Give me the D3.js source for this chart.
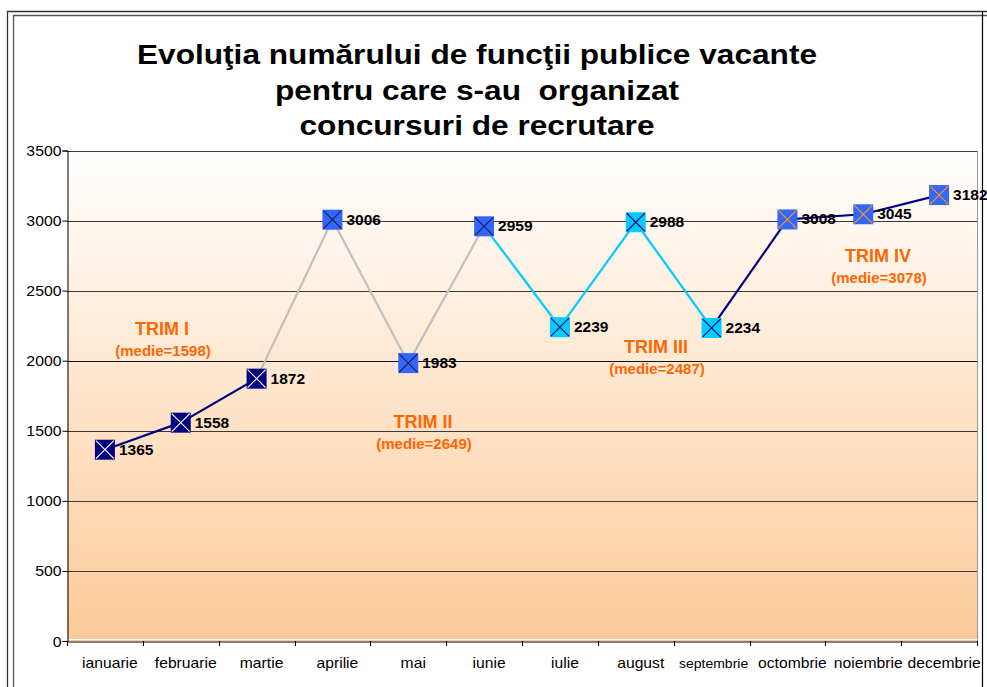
<!DOCTYPE html>
<html>
<head>
<meta charset="utf-8">
<script src="https://cdn.jsdelivr.net/npm/d3@7"></script>
<style>
  body { margin: 0; background: #fff; }
  text { font-family: "Liberation Sans", Arial, sans-serif; }
  .title { white-space: pre; }
</style>
</head>
<body>
<div id="chart"></div>
<script>
// data
var months = ["ianuarie", "februarie", "martie", "aprilie", "mai", "iunie",
              "iulie", "august", "septembrie", "octombrie", "noiembrie", "decembrie"];
var values = [1365, 1558, 1872, 3006, 1983, 2959, 2239, 2988, 2234, 3008, 3045, 3182];
var quarterNames = ["TRIM I", "TRIM II", "TRIM III", "TRIM IV"];
var quarterAvg = [1598, 2649, 2487, 3078];
var yTicks = [0, 500, 1000, 1500, 2000, 2500, 3000, 3500];
var titleLines = ["Evoluţia numărului de funcţii publice vacante",
                  "pentru care s-au  organizat",
                  "concursuri de recrutare"];

// styles per quarter (line into the month, marker fill, cross colour)
var quarterStyle = [
  {line: "#000080", fill: "#000080", cross: "#ffffff"},
  {line: "#c0c0c0", fill: "#3366ff", cross: "#1a1a4a"},
  {line: "#00ccff", fill: "#00ccff", cross: "#000080"},
  {line: "#000080", fill: "#3366ff", cross: "#ff9900"}
];
// where the quarter annotations sit (pixels)
var quarterLabelPos = [[162, 335], [423, 428], [656, 353], [878, 262]];

var width = 987, height = 687;
var plot = {left: 67, right: 977, top: 150.5, bottom: 641};
var stretch = 1.13;   // text in the picture is a bit wide

var svg = d3.select("#chart")
  .append("svg")
    .attr("width", width)
    .attr("height", height);

// frame
svg.append("path")
  .attr("d", "M7.5,687V11.5H987")
  .attr("fill", "none").attr("stroke", "#333").attr("stroke-width", 1.3);
svg.append("path")
  .attr("d", "M13.5,687V15.5H987")
  .attr("fill", "none").attr("stroke", "#555").attr("stroke-width", 1.3);
svg.append("line")
  .attr("x1", 982.5).attr("x2", 982.5).attr("y1", 11).attr("y2", 687)
  .attr("stroke", "#000").attr("stroke-width", 1.2);

// title
svg.selectAll(".title")
  .data(titleLines)
  .enter()
  .append("text")
    .attr("class", "title")
    .attr("xml:space", "preserve")
    .attr("transform", function(d, i) { return "translate(477," + (64 + i * 35.5) + ") scale(" + stretch + ",1)"; })
    .attr("text-anchor", "middle")
    .style("font-size", "28px")
    .style("font-weight", "bold")
    .text(function(d) { return d; });

// scales
var x = d3.scaleBand()
  .domain(months)
  .range([plot.left, plot.right]);

var y = d3.scaleLinear()
  .domain([0, 3500])
  .range([plot.bottom, plot.top]);

// plot background
var grad = svg.append("defs").append("linearGradient")
  .attr("id", "bg").attr("x1", 0).attr("y1", 0).attr("x2", 0).attr("y2", 1);
grad.append("stop").attr("offset", "0%").attr("stop-color", "#ffffff");
grad.append("stop").attr("offset", "100%").attr("stop-color", "#fdca98");

svg.append("rect")
  .attr("x", plot.left).attr("y", plot.top)
  .attr("width", plot.right - plot.left)
  .attr("height", plot.bottom - plot.top)
  .attr("fill", "url(#bg)");

svg.append("line")
  .attr("x1", plot.right + 0.5).attr("x2", plot.right + 0.5)
  .attr("y1", plot.top).attr("y2", plot.bottom)
  .attr("stroke", "#999");
svg.append("line")
  .attr("x1", plot.left).attr("x2", plot.right)
  .attr("y1", plot.bottom - 1.5).attr("y2", plot.bottom - 1.5)
  .attr("stroke", "#fff");

// gridlines
svg.selectAll(".grid")
  .data(yTicks.slice(1))
  .enter()
  .append("line")
    .attr("class", "grid")
    .attr("x1", plot.left).attr("x2", plot.right)
    .attr("y1", function(d) { return Math.round(y(d)) + 0.5; })
    .attr("y2", function(d) { return Math.round(y(d)) + 0.5; })
    .attr("stroke", function(d) { return d === 2000 ? "#111" : "#3a3a3a"; });

// Y axis
var yAxis = svg.append("g")
  .attr("transform", "translate(" + (plot.left + 0.5) + ",0)")
  .call(d3.axisLeft(y).tickValues(yTicks).tickSize(5).tickPadding(0).tickFormat(d3.format("d")));
yAxis.select(".domain").attr("stroke", "#000");
yAxis.selectAll("text")
  .attr("x", -6 / stretch)   // keep stretched labels right-aligned on the tick
  .attr("dy", "0.36em")
  .attr("transform", "scale(" + stretch + ",1)")
  .style("font-size", "14px")
  .style("font-family", '"Liberation Sans", Arial, sans-serif')
  .attr("fill", "#000");

// X axis
var xAxis = svg.append("g")
  .attr("transform", "translate(0," + (plot.bottom + 0.5) + ")")
  .call(d3.axisBottom(x).tickSize(0).tickFormat(""));
xAxis.select(".domain").attr("stroke", "#000");

svg.selectAll(".xtick")
  .data(months.concat(["end"]))
  .enter()
  .append("line")
    .attr("class", "xtick")
    .attr("x1", function(d, i) { return Math.round(plot.left + i * x.bandwidth()) + 0.5; })
    .attr("x2", function(d, i) { return Math.round(plot.left + i * x.bandwidth()) + 0.5; })
    .attr("y1", plot.bottom).attr("y2", plot.bottom + 5)
    .attr("stroke", "#000");

svg.selectAll(".xlabel")
  .data(months)
  .enter()
  .append("text")
    .attr("class", "xlabel")
    .attr("transform", function(d) {
      var off = d === "septembrie" ? 2 : 5;
      return "translate(" + (x(d) + x.bandwidth() / 2 + off) + ",668) scale(" + (stretch - 0.01) + ",1)";
    })
    .attr("text-anchor", "middle")
    .style("font-size", function(d) { return d === "septembrie" ? "12.5px" : "14px"; })
    .text(function(d) { return d; });

// line segments, coloured by the quarter of the month they end in
var pts = values.map(function(v, i) { return {m: months[i], v: v, q: Math.floor(i / 3)}; });
var segs = d3.pairs(pts);

svg.selectAll(".seg")
  .data(segs)
  .enter()
  .append("line")
    .attr("class", "seg")
    .attr("x1", function(d) { return x(d[0].m) + x.bandwidth() / 2; })
    .attr("y1", function(d) { return y(d[0].v); })
    .attr("x2", function(d) { return x(d[1].m) + x.bandwidth() / 2; })
    .attr("y2", function(d) { return y(d[1].v); })
    .attr("stroke", function(d) { return quarterStyle[d[1].q].line; })
    .attr("stroke-width", 2.2);

// markers
var mk = svg.selectAll(".marker")
  .data(pts)
  .enter()
  .append("g")
    .attr("class", "marker")
    .attr("transform", function(d) { return "translate(" + (x(d.m) + x.bandwidth() / 2) + "," + y(d.v) + ")"; });

mk.append("rect")
  .attr("x", -10).attr("y", -10).attr("width", 20).attr("height", 20)
  .attr("fill", function(d) { return quarterStyle[d.q].fill; });
mk.append("path")
  .attr("d", "M-9,-9L9,9M9,-9L-9,9")
  .attr("stroke", function(d) { return quarterStyle[d.q].cross; })
  .attr("stroke-width", 1.1);

// value labels
svg.selectAll(".vlabel")
  .data(pts)
  .enter()
  .append("text")
    .attr("class", "vlabel")
    .attr("x", function(d) { return x(d.m) + x.bandwidth() / 2 + 14; })
    .attr("y", function(d) { return y(d.v) + 5; })
    .style("font-size", "15.5px")
    .style("font-weight", "bold")
    .text(function(d) { return d.v; });

// quarter annotations
var ql = svg.selectAll(".qlabel")
  .data(quarterNames)
  .enter()
  .append("g")
    .attr("class", "qlabel")
    .attr("transform", function(d, i) { return "translate(" + quarterLabelPos[i][0] + "," + quarterLabelPos[i][1] + ")"; });

ql.append("text")
  .attr("text-anchor", "middle")
  .attr("fill", "#ff6600")
  .style("font-size", "18px")
  .style("font-weight", "bold")
  .text(function(d) { return d; });
ql.append("text")
  .attr("text-anchor", "middle")
  .attr("y", 21)
  .attr("x", 1)
  .attr("fill", "#ff6600")
  .style("font-size", "15px")
  .style("font-weight", "bold")
  .text(function(d, i) { return "(medie=" + quarterAvg[i] + ")"; });
</script>
</body>
</html>
